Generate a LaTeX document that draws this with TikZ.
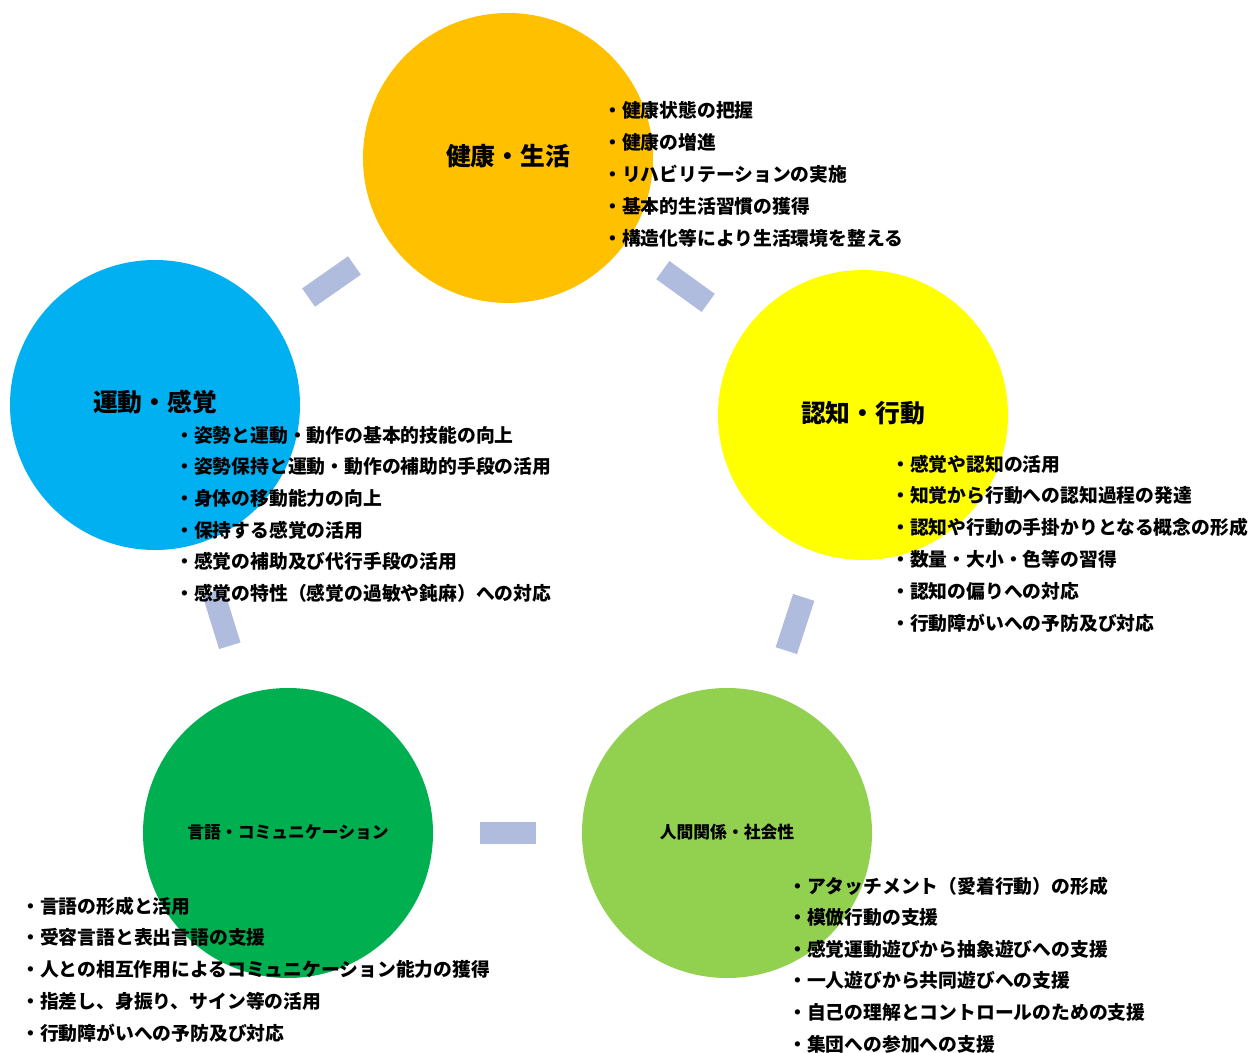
\documentclass[tikz,border=0pt]{standalone}
\usepackage{fontspec}
\setmainfont{Noto Sans CJK JP}
\definecolor{corange}{RGB}{255,192,0}
\definecolor{cblue}{RGB}{0,176,240}
\definecolor{cyellow}{RGB}{255,255,0}
\definecolor{cgreen}{RGB}{0,176,80}
\definecolor{clgreen}{RGB}{146,208,80}
\definecolor{linkc}{RGB}{176,188,222}
\begin{document}
\begin{tikzpicture}[x=0.75pt,y=-0.75pt,
  area/.style={circle,minimum size=217.5pt,inner sep=0pt,draw=none,text=black,font=\bfseries\fontsize{18.6}{22}\selectfont},
  smallarea/.style={area,font=\bfseries\fontsize{12.6}{15}\selectfont},
  conn/.style={rectangle,fill=linkc,draw=none,minimum width=42pt,minimum height=16.8pt,inner sep=0pt,sloped},
  item/.style={anchor=west,inner sep=0pt,font=\bfseries\fontsize{14.1}{16}\selectfont}]
\useasboundingbox (0,0) rectangle (1250,1053);
% circles
\node[area,fill=corange] (hs) at (508,158) {};
\node[area,fill=cblue] (uk) at (155,405) {};
\node[area,fill=cyellow] (nk) at (863,415) {};
\node[smallarea,fill=cgreen] (gc) at (288,833) {};
\node[smallarea,fill=clgreen] (ns) at (727,833) {};
% titles
\node[area,fill=none,minimum size=0pt] (hst) at (508,156) {健康・生活};
\node[area,fill=none,minimum size=0pt] (ukt) at (155,402) {運動・感覚};
\node[area,fill=none,minimum size=0pt] (nkt) at (863,413) {認知・行動};
\node[smallarea,fill=none,minimum size=0pt] (gct) at (288,832) {言語・コミュニケーション};
\node[smallarea,fill=none,minimum size=0pt] (nst) at (727,832) {人間関係・社会性};
% connectors
\path (hs) -- node[conn] (c1) {} (uk);
\path (hs) -- node[conn] (c2) {} (nk);
\path (uk) -- node[conn] (c3) {} (gc);
\path (nk) -- node[conn] (c4) {} (ns);
\path (gc) -- node[conn] (c5) {} (ns);
% lists
\foreach \t [count=\i] in {健康状態の把握,健康の増進,リハビリテーションの実施,基本的生活習慣の獲得,構造化等により生活環境を整える}
  \node[item] (a\i) at (603,{110+(\i-1)*32}) {・\t};
\foreach \t [count=\i] in {姿勢と運動・動作の基本的技能の向上,姿勢保持と運動・動作の補助的手段の活用,身体の移動能力の向上,保持する感覚の活用,感覚の補助及び代行手段の活用,感覚の特性（感覚の過敏や鈍麻）への対応}
  \node[item] (b\i) at (175,{435+(\i-1)*31.6}) {・\t};
\foreach \t [count=\i] in {感覚や認知の活用,知覚から行動への認知過程の発達,認知や行動の手掛かりとなる概念の形成,数量・大小・色等の習得,認知の偏りへの対応,行動障がいへの予防及び対応}
  \node[item] (c\i) at (891,{464+(\i-1)*31.8}) {・\t};
\foreach \t [count=\i] in {言語の形成と活用,受容言語と表出言語の支援,人との相互作用によるコミュニケーション能力の獲得,指差し、身振り、サイン等の活用,行動障がいへの予防及び対応}
  \node[item] (d\i) at (21,{906+(\i-1)*31.75}) {・\t};
\foreach \t [count=\i] in {アタッチメント（愛着行動）の形成,模倣行動の支援,感覚運動遊びから抽象遊びへの支援,一人遊びから共同遊びへの支援,自己の理解とコントロールのための支援,集団への参加への支援}
  \node[item] (e\i) at (788,{886+(\i-1)*31.6}) {・\t};
\end{tikzpicture}
\end{document}
